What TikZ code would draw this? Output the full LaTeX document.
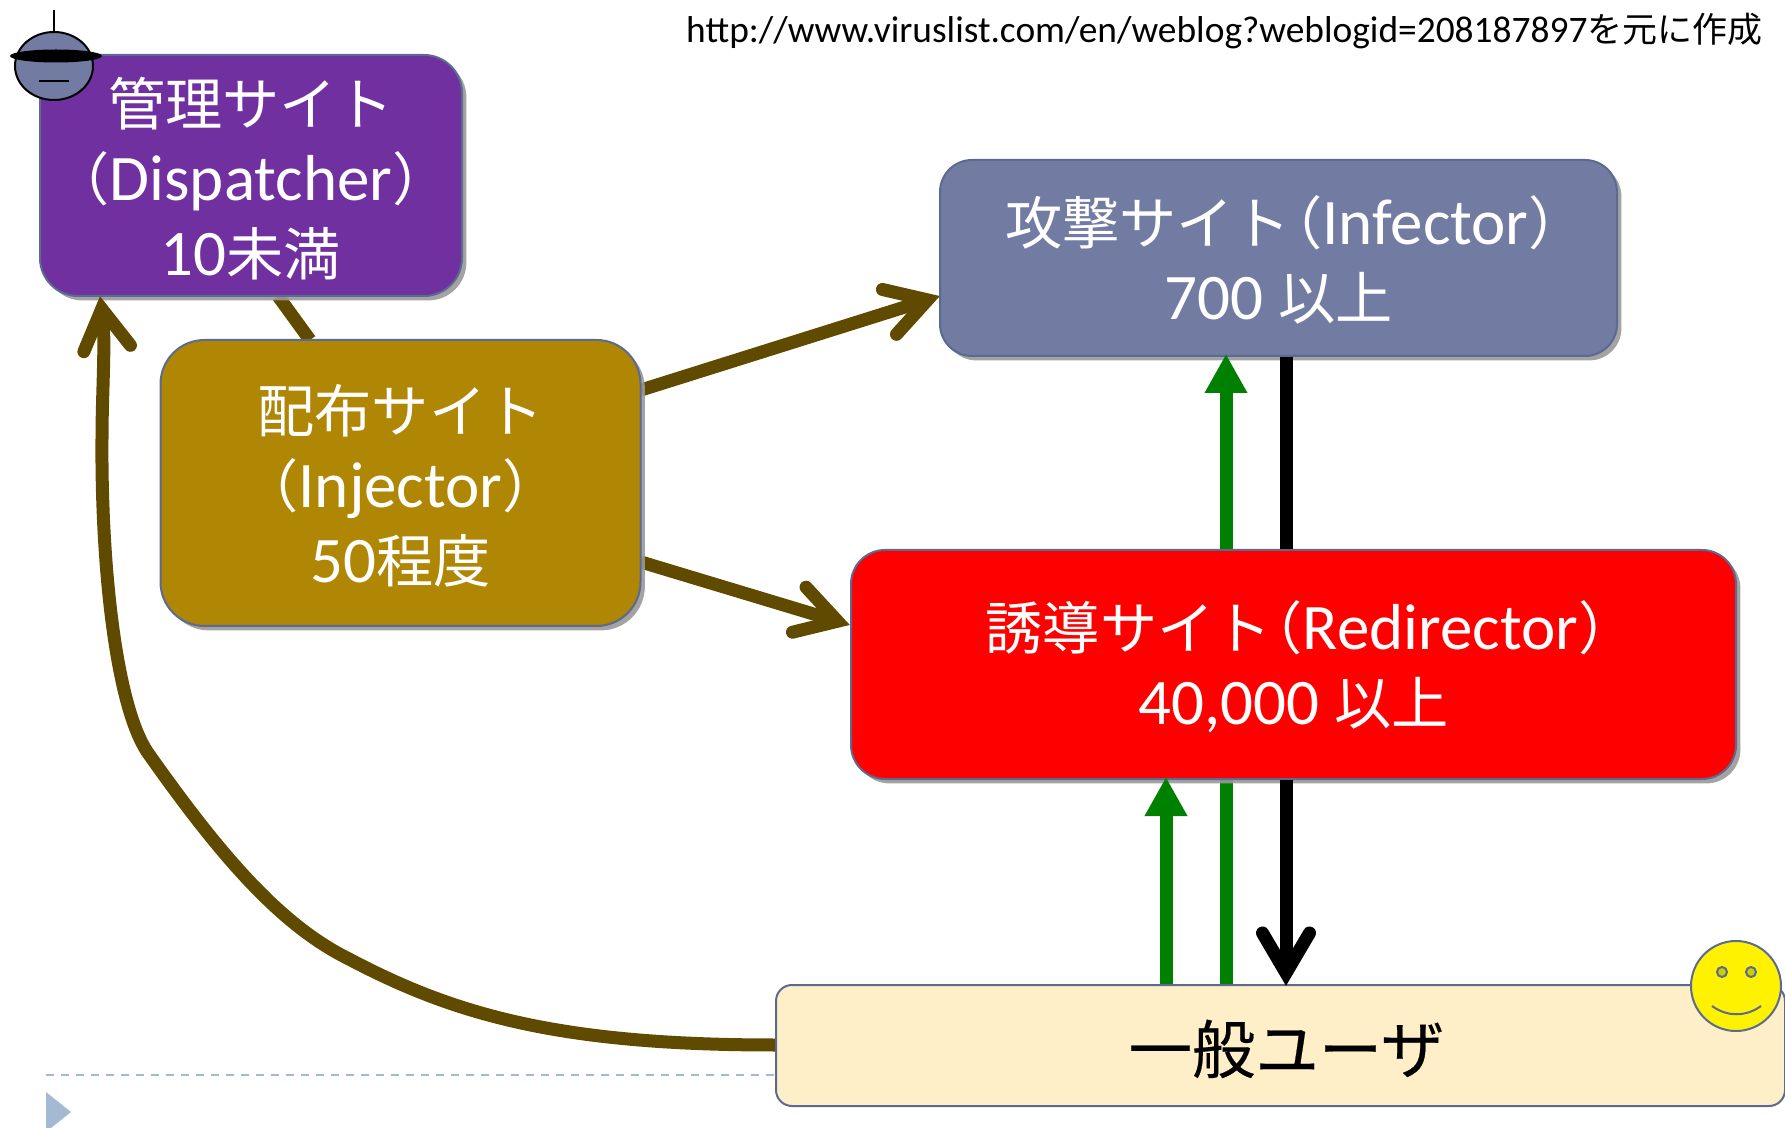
\documentclass[tikz,border=0pt]{standalone}
\usepackage{fontspec}
\setmainfont{Carlito}
\newfontfamily\jafont{Noto Sans CJK JP}
\newfontfamily\jaheavy[FakeBold=0.35]{Noto Sans CJK JP}
\usetikzlibrary{arrows.meta,shadows,backgrounds}
\newcommand{\jt}[1]{{\jafont\fontsize{28.6}{37.5}\selectfont #1}}
\newcommand{\js}[1]{{\jafont\fontsize{17.5}{20}\selectfont #1}}
% shift a stack of lines down without moving the node's box
\newcommand{\lowered}[2]{\raisebox{-#1}[\height][\depth]{\begin{tabular}{@{}c@{}}#2\end{tabular}}}
\definecolor{edgeblue}{HTML}{5A6A90}
\definecolor{dispfill}{HTML}{7030A0}
\definecolor{injfill}{HTML}{B08605}
\definecolor{inffill}{HTML}{727CA3}
\definecolor{userfill}{HTML}{FFEFC9}
\definecolor{brownline}{HTML}{604A00}
\definecolor{greenline}{HTML}{008000}
\definecolor{footblue}{HTML}{A3BAD2}
\definecolor{eyeyellow}{HTML}{CDCD00}
\pgfdeclarearrow{
  name=OpenHead,
  setup code={
    \pgfarrowssettipend{0pt}
    \pgfarrowssetlineend{-8pt}
    \pgfarrowssetbackend{-29pt}
    \pgfarrowssetvisualbackend{-8pt}
    \pgfarrowssavethe\pgfarrowlength
  },
  drawing code={
    \pgfsetdash{}{0pt}
    \pgfsetroundcap
    \pgfsetmiterjoin
    \pgfsetlinewidth{6.5pt}
    \pgfpathmoveto{\pgfqpoint{-26.5pt}{11.75pt}}
    \pgfpathlineto{\pgfqpoint{-6.5pt}{0pt}}
    \pgfpathlineto{\pgfqpoint{-26.5pt}{-11.75pt}}
    \pgfusepathqstroke
  },
  defaults={length=29pt}
}
\tikzset{
  sitebox/.style={draw=edgeblue,line width=1pt,align=center,
    text=white,inner sep=0pt,font=\fontsize{32.5}{37.5}\selectfont,
    general shadow={shadow xshift=2.2pt,shadow yshift=-2.2pt,fill=gray!80,opacity=.9}},
  userbox/.style={draw=edgeblue,line width=1pt,rounded corners=8pt,align=center,
    fill=userfill,text=black,inner sep=0pt},
  brownarrow/.style={draw=brownline,line width=6.5pt,-{OpenHead}},
  brownplain/.style={draw=brownline,line width=6.5pt},
  greenarrow/.style={draw=greenline,line width=6.5pt,shorten >=-1.5pt,-{Triangle[length=19.5pt,width=20pt]}},
  greenplain/.style={draw=greenline,line width=6.5pt},
  blackarrow/.style={draw=black,line width=6.5pt,shorten >=-1pt,-{OpenHead}},
  blackplain/.style={draw=black,line width=6.5pt},
  outline/.style={draw=black,line width=1pt},
  smile/.style={draw=edgeblue,line width=1pt}
}
\begin{document}
\begin{tikzpicture}[x=0.5pt,y=-0.5pt]
\useasboundingbox (0,0) rectangle (1785,1128);
% footer
\draw[footblue,line width=1pt,dash pattern=on 4pt off 3.5pt] (46,1075) -- (776,1075);
\fill[footblue] (46,1092) -- (71,1112) -- (46,1132) -- cycle;
% boxes
\node[sitebox,fill=dispfill,rounded corners=19pt,minimum width=211pt,minimum height=120.5pt] (disp) at (251,175.5)
  {\lowered{5.2pt}{\jt{管理サイト}\\\jt{（}Dispatcher\jt{）}\\10\jt{未満}}};
\node[sitebox,fill=inffill,rounded corners=16pt,minimum width=338.5pt,minimum height=98pt] (inf) at (1278.5,258)
  {\lowered{4.3pt}{\hspace*{17pt}\jt{攻撃サイト\hspace{-13pt}（}Infector\jt{）\hspace{-31pt}}\\700 \jt{以上}}};
\node[sitebox,fill=red,rounded corners=17pt,minimum width=442.5pt,minimum height=114.5pt] (red) at (1293.5,664.5)
  {\lowered{3.8pt}{\hspace*{17pt}\jt{誘導サイト\hspace{-13pt}（}Redirector\jt{）\hspace{-31pt}}\\40,000 \jt{以上}}};
\node[sitebox,fill=injfill,rounded corners=22pt,minimum width=240pt,minimum height=143pt] (inj) at (400.5,483)
  {\lowered{5pt}{\jt{配布サイト}\\\jt{（}Injector\jt{）}\\50\jt{程度}}};
\node[userbox,minimum width=504.5pt,minimum height=60.5pt] (user) at (1280.5,1045.5)
  {\hspace*{6pt}\lowered{2.2pt}{\jaheavy\fontsize{31.7}{37.5}\selectfont 一般ユーザ}};
% source
\node[anchor=east,inner sep=0pt,text=black,font=\fontsize{18.7}{20}\selectfont] (src) at (1763,31)
  {http://www.viruslist.com/en/weblog?weblogid=208187897\js{を元に作成}};
% connector anchors
\coordinate (curveStart) at (user.west |- 0,1045);
\coordinate (curveEnd) at (100,296);
\coordinate (dispLine) at (278,296);
\coordinate (injLine) at (310,340);
\coordinate (injUp) at (641,390);
\coordinate (infIn) at (940,296);
\coordinate (injDown) at (641,562);
\coordinate (redIn) at (850,625);
\begin{scope}[on background layer]
  \draw[brownplain] (dispLine) -- (injLine);
  \draw[brownarrow] (injUp) -- (infIn);
  \draw[brownarrow] (injDown) -- (redIn);
  \draw[greenplain] (user.north -| 1226,0) -- (red.south -| 1226,0);
\end{scope}
\draw[brownarrow] (curveStart)
  .. controls (560,1045) and (455,1015) .. (349,959)
  .. controls (280,925) and (220,855) .. (148,753)
  .. controls (115,705) and (101,560) .. (102,439)
  .. controls (102,390) and (106,340) .. (curveEnd);
\draw[greenarrow] (red.north -| 1226,0) -- (inf.south -| 1226,0);
\draw[blackplain] (inf.south -| 1286,0) -- (red.north -| 1286,0);
\draw[greenarrow] (user.north -| 1166,0) -- (red.south -| 1166,0);
\draw[blackarrow] (red.south -| 1286,0) -- (user.north -| 1286,0);
% person with hat
\draw[outline] (54,10) -- (54,32);
\draw[outline,fill=inffill] (54,66) ellipse[x radius=39,y radius=34];
\fill[black] (56,56) ellipse[x radius=46,y radius=6.5];
\draw[outline] (39,81) -- (69,81);
% smiley
\draw[smile,fill=yellow] (1736,986) circle[radius=45];
\draw[smile,fill=eyeyellow] (1722,972) circle[radius=5];
\draw[smile,fill=eyeyellow] (1751,972) circle[radius=5];
\draw[smile] (1712,1006) .. controls (1727,1017) and (1746,1017) .. (1761,1006);
\end{tikzpicture}
\end{document}
